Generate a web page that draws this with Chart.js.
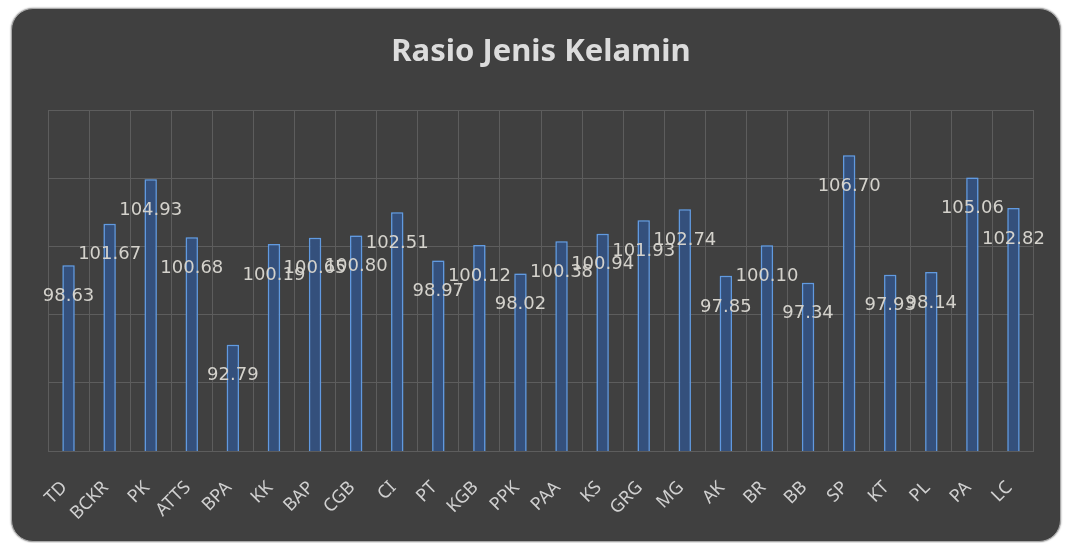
<!DOCTYPE html>
<html lang="id">
<head>
  <meta charset="UTF-8" />
  <title>Rasio Jenis Kelamin</title>
  <script src="https://cdn.jsdelivr.net/npm/chart.js"></script>
  <style>
    html, body { margin: 0; padding: 0; background: #fff; }
    body { width: 1065px; height: 543px; overflow: hidden; position: relative; }
    .card {
      position: absolute; left: 11px; top: 8px; width: 1048px; height: 532px;
      background: #404040; border: 1px solid #a9a9a9; border-radius: 22px;
      box-shadow: 0 0 2px #888; overflow: hidden;
    }
    .card canvas { display: block; }
  </style>
</head>
<body>
  <div class="card"><canvas id="chart"></canvas></div>

  <script>
    // data desa
    const categories = ['TD', 'BCKR', 'PK', 'ATTS', 'BPA', 'KK', 'BAP', 'CGB', 'CI', 'PT', 'KGB', 'PPK',
      'PAA', 'KS', 'GRG', 'MG', 'AK', 'BR', 'BB', 'SP', 'KT', 'PL', 'PA', 'LC'];
    const rasio = [98.63, 101.67, 104.93, 100.68, 92.79, 100.19, 100.65, 100.80, 102.51, 98.97, 100.12, 98.02,
      100.38, 100.94, 101.93, 102.74, 97.85, 100.10, 97.34, 106.70, 97.93, 98.14, 105.06, 102.82];
    const yMin = 85, yMax = 110, yStep = 5;

    // glow di sekitar batang
    const glow = {
      id: 'glow',
      beforeDatasetsDraw(chart) {
        const ctx = chart.ctx;
        ctx.save();
        ctx.shadowColor = 'rgba(90,150,225,0.75)';
        ctx.shadowBlur = 7;
      },
      afterDatasetsDraw(chart) {
        chart.ctx.restore();
      }
    };

    // label nilai (sedikit di bawah ujung batang, seperti aslinya)
    const valueLabels = {
      id: 'valueLabels',
      afterDatasetsDraw(chart) {
        const ctx = chart.ctx;
        const meta = chart.getDatasetMeta(0);
        ctx.save();
        ctx.font = '18px "DejaVu Sans"';
        ctx.fillStyle = '#d4d2cc';
        ctx.textAlign = 'center';
        ctx.textBaseline = 'middle';
        meta.data.forEach((bar, i) => {
          ctx.fillText(rasio[i].toFixed(2), bar.x, bar.y + 31);
        });
        ctx.restore();
      }
    };

    new Chart(document.getElementById('chart'), {
      type: 'bar',
      data: {
        labels: categories,
        datasets: [{
          data: rasio,
          backgroundColor: '#34507c',
          borderColor: '#649ce0',
          borderWidth: 1.5,
          borderSkipped: 'bottom',
          barPercentage: 0.3,
          categoryPercentage: 1
        }]
      },
      options: {
        responsive: true,
        maintainAspectRatio: false,
        animation: false,
        layout: { padding: { left: 36, right: 26, top: 0, bottom: 0 } },
        plugins: {
          legend: { display: false },
          tooltip: { enabled: false },
          title: {
            display: true,
            text: 'Rasio Jenis Kelamin',
            color: '#dcdcdc',
            font: { family: '"Noto Sans"', size: 31, weight: 'bold' },
            padding: { top: 25, bottom: 39 }
          }
        },
        scales: {
          x: {
            grid: { color: '#5d5d5d', drawTicks: false, offset: true },
            border: { display: false },
            ticks: {
              color: '#d0d0d0',
              font: { family: '"Noto Sans"', size: 18 },
              minRotation: 45, maxRotation: 45,
              padding: 26,
              labelOffset: -4
            },
            afterFit(scale) { scale.height = 90; }
          },
          y: {
            min: yMin, max: yMax,
            grid: { color: '#5d5d5d', drawTicks: false },
            border: { display: false },
            ticks: { display: false, stepSize: yStep }
          }
        }
      },
      plugins: [glow, valueLabels]
    });
  </script>
</body>
</html>
